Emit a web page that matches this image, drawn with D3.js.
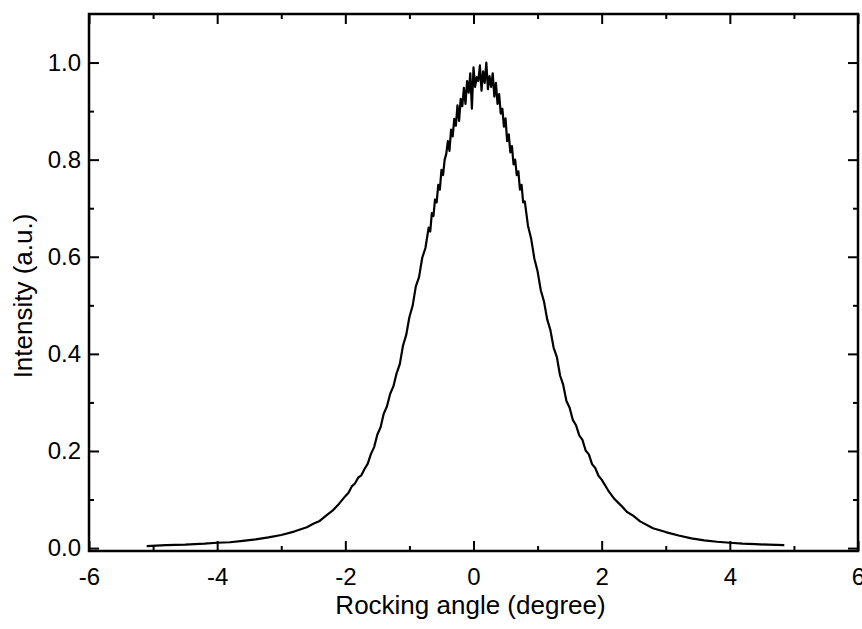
<!DOCTYPE html>
<html>
<head>
<meta charset="utf-8">
<script src="https://cdn.jsdelivr.net/npm/d3@7"></script>
<style>
  html, body { margin: 0; padding: 0; background: #fff; }
  svg text { font-family: "Liberation Sans", Arial, sans-serif; fill: #000; }
</style>
</head>
<body>
<div id="chart"></div>
<script>
// rocking angle (degree)
var angle = [
	-5.1, -4.8, -4.5, -4.2, -4.0, -3.8, -3.6, -3.4, -3.2, -3.0, -2.8, -2.6, -2.5, -2.4, -2.3, -2.2, -2.1,
	-2.0, -1.95, -1.9, -1.85, -1.8, -1.75, -1.7, -1.65, -1.6, -1.55, -1.5, -1.45, -1.4, -1.35, -1.3, -1.25,
	-1.2, -1.15, -1.1, -1.05, -1.0, -0.95, -0.9, -0.85, -0.8, -0.75,
	-0.7, -0.675, -0.65, -0.625, -0.6, -0.575, -0.55, -0.525, -0.5, -0.475, -0.45, -0.425, -0.4, -0.375,
	-0.35, -0.325, -0.3, -0.275, -0.25, -0.225, -0.2, -0.175, -0.15, -0.125, -0.1, -0.075, -0.05, -0.025,
	0.0, 0.025, 0.05, 0.075, 0.1, 0.125, 0.15, 0.175, 0.2, 0.225, 0.25, 0.275, 0.3, 0.325, 0.35, 0.375,
	0.4, 0.425, 0.45, 0.475, 0.5, 0.525, 0.55, 0.575, 0.6, 0.625, 0.65, 0.675, 0.7, 0.725, 0.75, 0.775, 0.8,
	0.85, 0.9, 0.95, 1.0, 1.05, 1.1, 1.15, 1.2, 1.25, 1.3, 1.35, 1.4, 1.45, 1.5, 1.55, 1.6, 1.65, 1.7,
	1.75, 1.8, 1.85, 1.9, 1.95, 2.0,
	2.1, 2.2, 2.3, 2.4, 2.5, 2.6, 2.8, 3.0, 3.2, 3.4, 3.6, 3.8, 4.0, 4.2, 4.4, 4.6, 4.85
];

// intensity (a.u.)
var intensity = [
	0.004, 0.006, 0.007, 0.009, 0.011, 0.012, 0.015, 0.018, 0.022, 0.027, 0.034, 0.043, 0.050, 0.056, 0.067, 0.077, 0.091,
	0.107, 0.114, 0.127, 0.133, 0.145, 0.150, 0.163, 0.174, 0.194, 0.208, 0.234, 0.249, 0.277, 0.292, 0.318, 0.333,
	0.360, 0.379, 0.417, 0.439, 0.476, 0.499, 0.539, 0.558, 0.598, 0.618,
	0.660, 0.652, 0.690, 0.684, 0.718, 0.712, 0.748, 0.738, 0.779, 0.768, 0.800, 0.812, 0.838, 0.818,
	0.862, 0.848, 0.884, 0.870, 0.912, 0.880, 0.925, 0.910, 0.948, 0.915, 0.962, 0.938, 0.978, 0.905,
	0.990, 0.950, 0.970, 0.962, 0.994, 0.942, 0.982, 0.958, 1.000, 0.945, 0.972, 0.950, 0.978, 0.930, 0.958, 0.915,
	0.935, 0.895, 0.905, 0.868, 0.885, 0.838, 0.852, 0.815, 0.828, 0.790, 0.800, 0.768, 0.776, 0.738, 0.748, 0.712, 0.714,
	0.664, 0.637, 0.596, 0.570, 0.531, 0.508, 0.471, 0.449, 0.413, 0.394, 0.356, 0.336, 0.303, 0.289, 0.264, 0.253, 0.232, 0.223,
	0.201, 0.193, 0.173, 0.165, 0.149, 0.141,
	0.119, 0.101, 0.088, 0.074, 0.066, 0.055, 0.041, 0.033, 0.026, 0.020, 0.016, 0.013, 0.011, 0.009, 0.008, 0.007, 0.006
];

var xTicks = [-6, -4, -2, 0, 2, 4, 6];
var xMinor = [-5, -3, -1, 1, 3, 5];
var yTicks = [0.0, 0.2, 0.4, 0.6, 0.8, 1.0];
var yMinor = [0.1, 0.3, 0.5, 0.7, 0.9];

var dataset = angle.map(function(a, i) { return { angle: a, value: intensity[i] }; });

var width = 862;
var height = 629;
var padding = {left:89, right:4, top:14, bottom:78};
var innerW = width - padding.left - padding.right;
var innerH = height - padding.top - padding.bottom;

var svg = d3.select("#chart")
	.append("svg")
	.attr("width", width)
	.attr("height", height);

var xScale = d3.scaleLinear()
	.domain([-6, 6])
	.range([0, innerW]);

var yScale = d3.scaleLinear()
	.domain([-0.006, 1.1])
	.range([innerH, 0]);

var g = svg.append("g")
	.attr("transform", "translate(" + padding.left + "," + padding.top + ")");

function styleAxis(sel) {
	sel.select(".domain").remove();
	sel.selectAll(".tick line").attr("stroke", "#000").attr("stroke-width", 2);
	sel.selectAll(".tick text")
		.style("font-size", "24px")
		.style("font-family", "'Liberation Sans', Arial, sans-serif")
		.attr("fill", "#000");
}

// plain hyphen instead of unicode minus, like the original figure
var xFormat = function(d) { return String(d); };
var yFormat = function(d) { return d.toFixed(1); };

// major ticks with labels
g.append("g")
	.attr("transform", "translate(0," + innerH + ")")
	.call(d3.axisBottom(xScale).tickValues(xTicks).tickFormat(xFormat).tickSizeInner(-10).tickSizeOuter(0).tickPadding(17))
	.call(styleAxis);

g.append("g")
	.call(d3.axisLeft(yScale).tickValues(yTicks).tickFormat(yFormat).tickSizeInner(-10).tickSizeOuter(0).tickPadding(8))
	.call(styleAxis);

// top / right major ticks, no labels
g.append("g")
	.call(d3.axisTop(xScale).tickValues(xTicks).tickFormat("").tickSizeInner(-10).tickSizeOuter(0))
	.call(styleAxis);

g.append("g")
	.attr("transform", "translate(" + innerW + ",0)")
	.call(d3.axisRight(yScale).tickValues(yTicks).tickFormat("").tickSizeInner(-10).tickSizeOuter(0))
	.call(styleAxis);

// minor ticks
g.append("g")
	.attr("transform", "translate(0," + innerH + ")")
	.call(d3.axisBottom(xScale).tickValues(xMinor).tickFormat("").tickSizeInner(-5).tickSizeOuter(0))
	.call(styleAxis);
g.append("g")
	.call(d3.axisTop(xScale).tickValues(xMinor).tickFormat("").tickSizeInner(-5).tickSizeOuter(0))
	.call(styleAxis);
g.append("g")
	.call(d3.axisLeft(yScale).tickValues(yMinor).tickFormat("").tickSizeInner(-5).tickSizeOuter(0))
	.call(styleAxis);
g.append("g")
	.attr("transform", "translate(" + innerW + ",0)")
	.call(d3.axisRight(yScale).tickValues(yMinor).tickFormat("").tickSizeInner(-5).tickSizeOuter(0))
	.call(styleAxis);

// frame
g.append("rect")
	.attr("x", 0)
	.attr("y", 0)
	.attr("width", innerW)
	.attr("height", innerH)
	.attr("fill", "none")
	.attr("stroke", "#000")
	.attr("stroke-width", 2.5);

var line = d3.line()
	.x(function(d) { return xScale(d.angle); })
	.y(function(d) { return yScale(d.value); });

g.append("path")
	.datum(dataset)
	.attr("d", line)
	.attr("fill", "none")
	.attr("stroke", "#000")
	.attr("stroke-width", 2.2)
	.attr("stroke-linejoin", "round");

// axis titles
svg.append("text")
	.attr("x", padding.left + innerW / 2 - 3)
	.attr("y", 614)
	.attr("text-anchor", "middle")
	.style("font-size", "26px")
	.text("Rocking angle (degree)");

svg.append("text")
	.attr("transform", "translate(32,296) rotate(-90)")
	.attr("text-anchor", "middle")
	.style("font-size", "26px")
	.text("Intensity (a.u.)");
</script>
</body>
</html>
